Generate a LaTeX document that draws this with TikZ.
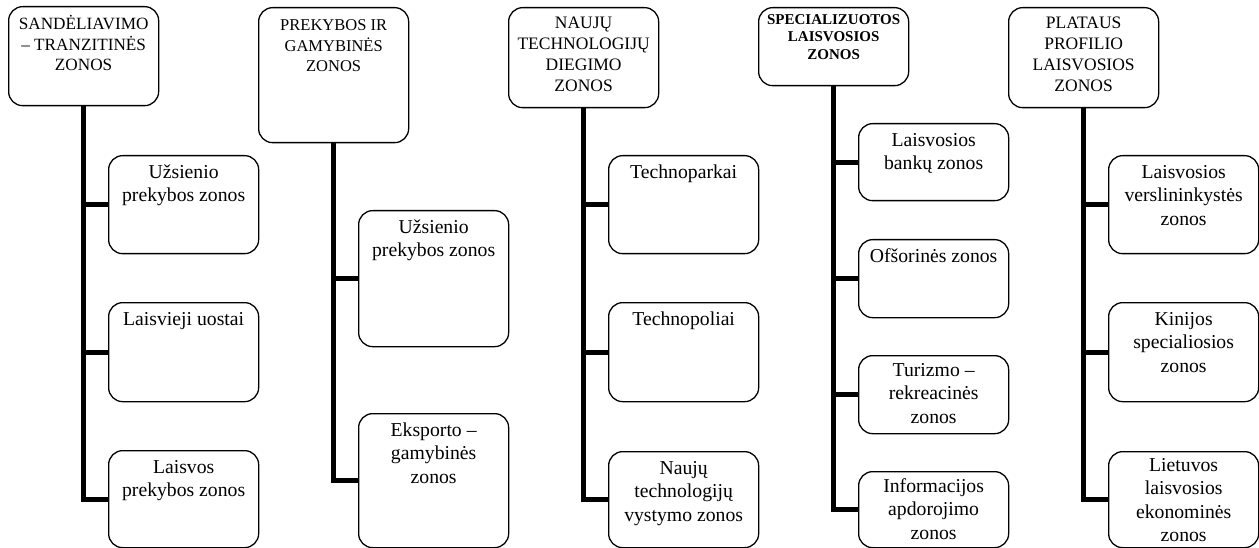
\documentclass[tikz,border=0pt]{standalone}
\usepackage{fontspec}
\setmainfont{Liberation Serif}
\newcommand{\zt}[4]{\parbox[c][#1][t]{150pt}{\centering#2\rule{0pt}{#3}#4\par}}
\newcommand{\chf}{\fontsize{19.7}{23.3}\selectfont}
\newcommand{\hdf}{\fontsize{17.2}{20.5}\selectfont}
\newcommand{\hdp}{\fontsize{16.5}{20.5}\selectfont}
\newcommand{\hdg}{\fontsize{17.5}{21}\selectfont}
\newcommand{\hdb}{\fontsize{15}{17.2}\selectfont\bfseries}
\tikzset{
  zone/.style={draw=black, line width=1.3pt, rounded corners=14pt, inner sep=0pt, anchor=north west},
  trunk/.style={draw=black, line width=5pt, line join=miter}
}
\begin{document}
\begin{tikzpicture}[x=1pt,y=-1pt]
\useasboundingbox (0,0) rectangle (1259,548);
% column 1
\node[zone] (h1) at (8,6) {\zt{99pt}{\hdf}{23pt}{SANDĖLIAVIMO\\– TRANZITINĖS\\ZONOS}};
\node[zone] (c11) at (108,155) {\zt{98pt}{\chf}{23pt}{Užsienio\\prekybos zonos}};
\node[zone] (c12) at (108,302) {\zt{99pt}{\chf}{23pt}{Laisvieji uostai}};
\node[zone] (c13) at (108,450) {\zt{97pt}{\chf}{23pt}{Laisvos\\prekybos zonos}};
% column 2
\node[zone] (h2) at (258,7) {\zt{135pt}{\hdp}{23pt}{PREKYBOS IR\\GAMYBINĖS\\ZONOS}};
\node[zone] (c21) at (358,210) {\zt{136pt}{\chf}{23pt}{Užsienio\\prekybos zonos}};
\node[zone] (c22) at (358,413) {\zt{134pt}{\chf}{23pt}{Eksporto –\\gamybinės\\zonos}};
% column 3
\node[zone] (h3) at (508,7) {\zt{100pt}{\hdg}{21pt}{NAUJŲ\\TECHNOLOGIJŲ\\DIEGIMO\\ZONOS}};
\node[zone] (c31) at (608,155) {\zt{98pt}{\chf}{23pt}{Technoparkai}};
\node[zone] (c32) at (608,302) {\zt{99pt}{\chf}{23pt}{Technopoliai}};
\node[zone] (c33) at (608,451) {\zt{96pt}{\chf}{23pt}{Naujų\\technologijų\\vystymo zonos}};
% column 4
\node[zone] (h4) at (758,7) {\zt{78pt}{\hdb}{17pt}{SPECIALIZUOTOS\\LAISVOSIOS\\ZONOS}};
\node[zone] (c41) at (858,123) {\zt{77pt}{\chf}{23pt}{Laisvosios\\bankų zonos}};
\node[zone] (c42) at (858,239) {\zt{78pt}{\chf}{23pt}{Ofšorinės zonos}};
\node[zone] (c43) at (858,355) {\zt{78pt}{\chf}{21pt}{Turizmo –\\rekreacinės\\zonos}};
\node[zone] (c44) at (858,471) {\zt{76pt}{\chf}{21pt}{Informacijos\\apdorojimo\\zonos}};
% column 5
\node[zone] (h5) at (1008,7) {\zt{100pt}{\hdg}{21pt}{PLATAUS\\PROFILIO\\LAISVOSIOS\\ZONOS}};
\node[zone] (c51) at (1108,155) {\zt{98pt}{\chf}{23pt}{Laisvosios\\verslininkystės\\zonos}};
\node[zone] (c52) at (1108,302) {\zt{99pt}{\chf}{23pt}{Kinijos\\specialiosios\\zonos}};
\node[zone] (c53) at (1108,451) {\zt{96pt}{\chf}{20pt}{Lietuvos\\laisvosios\\ekonominės\\zonos}};
% connectors
\draw[trunk] (h1.south) |- (c13.west);
\draw[trunk] (h1.south |- c11.west) -- (c11.west);
\draw[trunk] (h1.south |- c12.west) -- (c12.west);
\draw[trunk] (h2.south) |- (c22.west);
\draw[trunk] (h2.south |- c21.west) -- (c21.west);
\draw[trunk] (h3.south) |- (c33.west);
\draw[trunk] (h3.south |- c31.west) -- (c31.west);
\draw[trunk] (h3.south |- c32.west) -- (c32.west);
\draw[trunk] (h4.south) |- (c44.west);
\draw[trunk] (h4.south |- c41.west) -- (c41.west);
\draw[trunk] (h4.south |- c42.west) -- (c42.west);
\draw[trunk] (h4.south |- c43.west) -- (c43.west);
\draw[trunk] (h5.south) |- (c53.west);
\draw[trunk] (h5.south |- c51.west) -- (c51.west);
\draw[trunk] (h5.south |- c52.west) -- (c52.west);
\end{tikzpicture}
\end{document}
